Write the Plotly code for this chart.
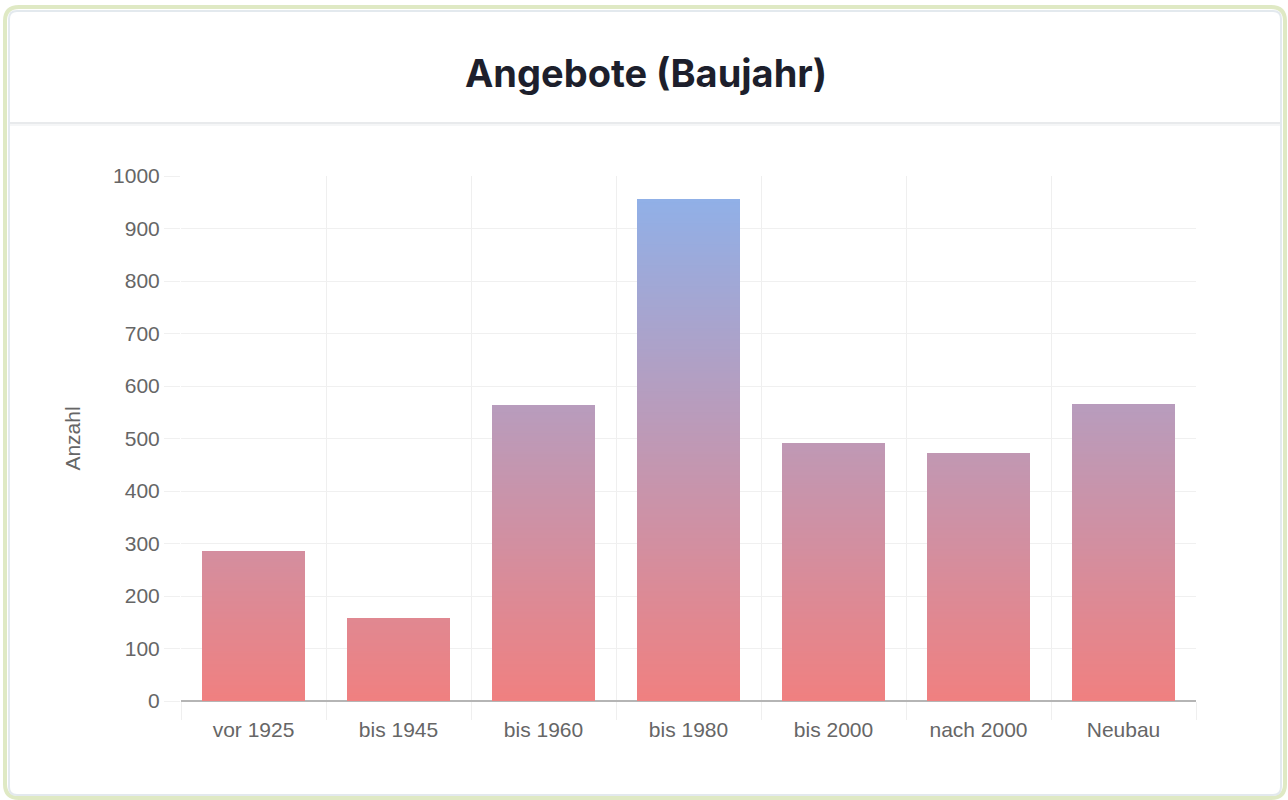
import plotly.graph_objects as go

categories = ["vor 1925", "bis 1945", "bis 1960", "bis 1980", "bis 2000", "nach 2000", "Neubau"]
values = [285, 157, 562, 956, 491, 472, 565]
y_ticks = [0, 100, 200, 300, 400, 500, 600, 700, 800, 900, 1000]

W, H = 1288, 800
L, R, T, B = 181, 1196, 176, 701  # plot area in px (145 px per category)
YMAX = 1000
BAR_PX = 103
BAR_W = BAR_PX / ((R - L) / len(categories))

def px(x):
    return (x - L) / (R - L)

def py(y):
    return (B - y) / (B - T)

c0 = (240, 128, 128)   # bottom colour
c1 = (140, 178, 236)   # colour at top of scale

def col(t):
    t = max(0.0, min(1.0, t))
    return "rgb(%d,%d,%d)" % tuple(round(a + (b - a) * t) for a, b in zip(c0, c1))

fig = go.Figure()

step = 5
top = max(values)
k = 0
while k * step < top:
    base = k * step
    heights = [max(0, v - base) for v in values]
    fig.add_trace(go.Bar(
        x=categories, y=heights, base=[base] * len(values),
        marker=dict(color=col((base + step / 2) / YMAX), line=dict(width=0)),
        hoverinfo="skip", showlegend=False, width=BAR_W,
    ))
    k += 1

def rrect(x0, y0, x1, y1, r):
    rx = r / (R - L)
    ry = r / (B - T)
    X0, X1 = px(x0), px(x1)
    Y0, Y1 = py(y0), py(y1)  # Y0 top, Y1 bottom
    return (f"M {X0+rx},{Y0} L {X1-rx},{Y0} Q {X1},{Y0} {X1},{Y0-ry} "
            f"L {X1},{Y1+ry} Q {X1},{Y1} {X1-rx},{Y1} L {X0+rx},{Y1} "
            f"Q {X0},{Y1} {X0},{Y1+ry} L {X0},{Y0-ry} Q {X0},{Y0} {X0+rx},{Y0} Z")

shapes = []
# card outer (green) and inner (blue-grey) borders
shapes.append(dict(type="path", xref="paper", yref="paper", path=rrect(5, 7, 1285, 798, 14),
                   line=dict(color="#dfe9c4", width=4), fillcolor="rgba(0,0,0,0)", layer="below"))
shapes.append(dict(type="path", xref="paper", yref="paper", path=rrect(9, 11, 1281, 795, 8),
                   line=dict(color="#e3e9ee", width=2), fillcolor="white", layer="below"))
# header separator
shapes.append(dict(type="line", xref="paper", yref="paper", x0=px(10), x1=px(1280), y0=py(123), y1=py(123),
                   line=dict(color="#e8eaec", width=2), layer="below"))
shapes.append(dict(type="line", xref="paper", yref="paper", x0=px(10), x1=px(1280), y0=py(125), y1=py(125),
                   line=dict(color="#f5f6f7", width=2), layer="below"))

fig.update_layout(
    width=W, height=H,
    margin=dict(l=L, r=W - R, t=T, b=H - B),
    paper_bgcolor="white", plot_bgcolor="rgba(0,0,0,0)",
    barmode="overlay",
    shapes=shapes,
    showlegend=False,
    font=dict(family="Liberation Sans, Arial, sans-serif", color="#666666", size=21),
    annotations=[dict(text="<b>Angebote (Baujahr)</b>", xref="paper", yref="paper",
                      x=px(646), y=py(73), xanchor="center", yanchor="middle", showarrow=False,
                      font=dict(family="Inter, Lato, sans-serif", size=38, color="#1d1f2c"))],
)
fig.update_xaxes(showgrid=True, gridcolor="#efefef", gridwidth=1, tickson="boundaries",
                 showline=False, ticks="outside", ticklen=18, tickcolor="#efefef",
                 ticklabelstandoff=14,
                 tickfont=dict(size=21, color="#666666"),
                 range=[-0.5, len(categories) - 0.5], fixedrange=True)
fig.update_yaxes(range=[0, YMAX], tickvals=y_ticks, showgrid=True, gridcolor="#f0f0f0", gridwidth=1,
                 zeroline=True, zerolinecolor="#b5b5b5", zerolinewidth=1.5,
                 ticks="outside", ticklen=16, tickcolor="#f0f0f0",
                 tickfont=dict(size=21, color="#666666"),
                 title=dict(text="Anzahl", font=dict(size=21, color="#666666"), standoff=26),
                 fixedrange=True)

fig.write_html("out.html", config={"displayModeBar": False},
               post_script="document.body.style.margin='0px';document.body.style.overflow='hidden';")
